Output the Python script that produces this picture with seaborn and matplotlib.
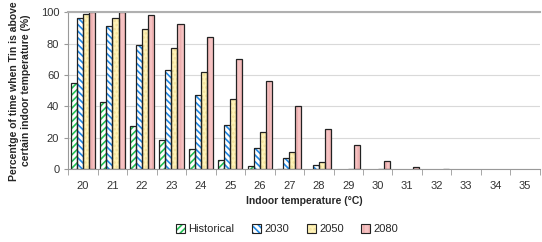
import numpy as np
import pandas as pd
import seaborn as sns
import matplotlib.pyplot as plt
from matplotlib.patches import Rectangle

temps = [str(t) for t in range(20, 36)]
historical = [55, 43, 27.5, 18.5, 13, 6, 2.3, 0.3, 0, 0, 0, 0, 0, 0, 0, 0]
y2030 = [96.5, 91, 79, 63.5, 47.5, 28, 13.3, 7, 2.6, 0, 0, 0, 0, 0, 0, 0]
y2050 = [99, 96.5, 89, 77, 62, 44.5, 23.5, 11, 4.8, 0.3, 0.2, 0, 0, 0, 0, 0]
y2080 = [100, 100, 98, 92.5, 84, 70, 56.5, 40, 25.7, 15.5, 5.3, 1.8, 0.3, 0, 0, 0]
series = ["Historical", "2030", "2050", "2080"]

df = pd.DataFrame({"temp": temps, "Historical": historical, "2030": y2030,
                   "2050": y2050, "2080": y2080})
long = df.melt(id_vars="temp", var_name="scenario", value_name="pct")

faces = ["white", "white", "#fff3b8", "#f6c2c2"]
hatch_cols = ["#22c055", "#1e88e5", "#f3e09a", "#eeb0b0"]
hatches = ["/////", "\\\\\\\\\\", "....", "|||"]

sns.set_style("white")
plt.rcParams["font.family"] = ["Liberation Sans", "DejaVu Sans"]
plt.rcParams["hatch.linewidth"] = 1.2


def style_patch(p, fc, hc, h):
    # hatch colour follows the edge colour; outline is drawn separately
    p.set_facecolor(fc)
    p.set_hatch(h)
    p.set_edgecolor(hc)
    p.set_linewidth(0)


fig = plt.figure(figsize=(5.42, 2.42), dpi=100)
ax = fig.add_axes([0.126, 0.30, 0.870, 0.65])

sns.barplot(data=long, x="temp", y="pct", hue="scenario", hue_order=series,
            palette=faces, width=0.82, ax=ax, legend=False)

handles = []
for cont, hc, h, fc, name in zip(ax.containers, hatch_cols, hatches, faces, series):
    for bar in cont:
        style_patch(bar, fc, hc, h)
        if bar.get_height() > 0:
            ax.add_patch(Rectangle(bar.get_xy(), bar.get_width(), bar.get_height(),
                                   fill=False, edgecolor="#222222", lw=0.9))
    hp = Rectangle((0, 0), 1, 1)
    style_patch(hp, fc, hc, h)
    outline = Rectangle((0, 0), 1, 1, fill=False, edgecolor="#222222", lw=0.8)
    handles.append((hp, outline))

ax.set_ylim(0, 100)
ax.set_xlim(-0.5, len(temps) - 0.5)
ax.set_yticks([0, 20, 40, 60, 80, 100])
ax.grid(axis="y", color="#d9d9d9", lw=0.8)
ax.set_axisbelow(True)
for s in ["left", "bottom"]:
    ax.spines[s].set_color("#999999")
ax.spines["top"].set_color("#b0b0b0")
ax.spines["top"].set_linewidth(1.5)
ax.spines["right"].set_visible(False)
ax.set_xticks(np.arange(-0.5, len(temps), 1), minor=True)
ax.tick_params(axis="x", which="major", length=0, labelsize=8, pad=8, colors="#333333")
ax.tick_params(axis="x", which="minor", length=4, color="#999999", direction="out", bottom=True)
ax.tick_params(axis="y", length=3, color="#999999", labelsize=8, colors="#333333", left=True)
ax.set_xlabel("Indoor temperature (\u00b0C)", fontsize=7.5, fontweight="bold", labelpad=4)
ax.set_ylabel("Percentge of time when Tin is above\ncertain indoor temperature (%)",
              fontsize=7.5, fontweight="bold", labelpad=7)

fig.legend(handles=handles, labels=series, loc="lower center", ncol=4, frameon=False,
           fontsize=8, handlelength=0.8, handleheight=0.8, handletextpad=0.3,
           columnspacing=1.6, bbox_to_anchor=(0.53, -0.01))

fig.savefig("out.png", dpi=100)
